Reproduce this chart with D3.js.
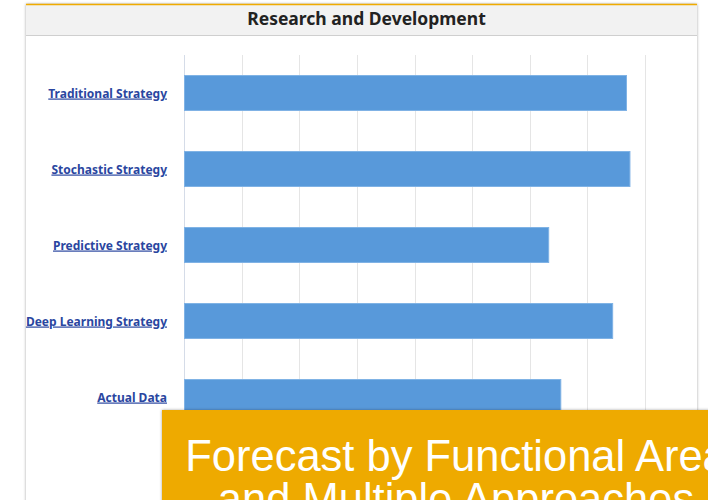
<!DOCTYPE html>
<html>
<head>
<meta charset="utf-8">
<script src="https://cdn.jsdelivr.net/npm/d3@7"></script>
<style>
  body { margin: 0; background: #fff; }
  svg { display: block; }
</style>
</head>
<body>
<div id="chart"></div>
<script>
var categories = ["Traditional Strategy", "Stochastic Strategy", "Predictive Strategy", "Deep Learning Strategy", "Actual Data"];
var values = [76.7, 77.3, 63.2, 74.3, 65.3];
var xTicks = [0, 10, 20, 30, 40, 50, 60, 70, 80];
var chartTitle = "Research and Development";
var bannerLines = ["Forecast by Functional Area", "and Multiple Approaches"];

var width = 708,
    height = 500;

var svg = d3.select("#chart").append("svg")
    .attr("width", width)
    .attr("height", height);

var defs = svg.append("defs");
var shadow = defs.append("filter").attr("id", "shadow")
    .attr("x", "-5%").attr("y", "-10%").attr("width", "110%").attr("height", "130%");
shadow.append("feDropShadow")
    .attr("dx", 0).attr("dy", 0).attr("stdDeviation", 1.5)
    .attr("flood-color", "#000").attr("flood-opacity", 0.35);

// panel
svg.append("rect")
    .attr("x", 26).attr("y", 4)
    .attr("width", 671).attr("height", 520)
    .attr("fill", "#fff")
    .attr("filter", "url(#shadow)");

svg.append("rect")
    .attr("x", 26).attr("y", 5)
    .attr("width", 671).attr("height", 30)
    .attr("fill", "#f2f2f2");

svg.append("line")
    .attr("x1", 26).attr("x2", 697)
    .attr("y1", 35.5).attr("y2", 35.5)
    .attr("stroke", "#cfcfcf");

svg.append("line")
    .attr("x1", 26).attr("x2", 697)
    .attr("y1", 4.5).attr("y2", 4.5)
    .attr("stroke", "#f0ab00")
    .attr("stroke-width", 1.5);

svg.append("text")
    .attr("x", 366.5).attr("y", 25)
    .attr("text-anchor", "middle")
    .style("font-family", "'Noto Sans', sans-serif")
    .style("font-weight", "bold")
    .style("font-size", "17.5px")
    .attr("fill", "#222")
    .text(chartTitle);

// scales
var x = d3.scaleLinear()
    .domain([0, 80])
    .range([184, 645]);

var y = d3.scaleBand()
    .domain(categories)
    .range([55, 435])
    .paddingInner(0.54)
    .paddingOuter(0.27);

// gridlines
svg.append("g")
    .selectAll("line")
    .data(xTicks)
    .enter().append("line")
    .attr("x1", function(d) { return Math.round(x(d)) + 0.5; })
    .attr("x2", function(d) { return Math.round(x(d)) + 0.5; })
    .attr("y1", 55)
    .attr("y2", 500)
    .attr("stroke", function(d) { return d === 0 ? "#d5dce8" : "#e5e5e5"; });

// bars
svg.append("g")
    .selectAll("rect")
    .data(values)
    .enter().append("rect")
    .attr("x", x(0) + 0.5)
    .attr("y", function(d, i) { return y(categories[i]); })
    .attr("width", function(d) { return x(d) - x(0); })
    .attr("height", y.bandwidth())
    .attr("fill", "#5899da")
    .attr("stroke", "#7fb2e5")
    .attr("stroke-width", 1);

// category labels
svg.append("g")
    .selectAll("text")
    .data(categories)
    .enter().append("text")
    .attr("x", 167)
    .attr("y", function(d) { return y(d) + y.bandwidth() / 2 + 4.5; })
    .attr("text-anchor", "end")
    .style("font-family", "'Noto Sans', sans-serif")
    .style("font-weight", "bold")
    .style("font-size", "12px")
    .style("text-decoration", "underline")
    .attr("fill", "#2a46a0")
    .text(function(d) { return d; });

// banner overlay
svg.append("rect")
    .attr("x", 162).attr("y", 410)
    .attr("width", 560).attr("height", 100)
    .attr("fill", "#eeaa00")
    .attr("filter", "url(#shadow)");

svg.append("g")
    .selectAll("text")
    .data(bannerLines)
    .enter().append("text")
    .attr("x", 456)
    .attr("y", function(d, i) { return 471 + i * 43; })
    .attr("text-anchor", "middle")
    .style("font-family", "'Liberation Sans', Arial, sans-serif")
    .style("font-size", "43.5px")
    .attr("fill", "#fff")
    .text(function(d) { return d; });
</script>
</body>
</html>
